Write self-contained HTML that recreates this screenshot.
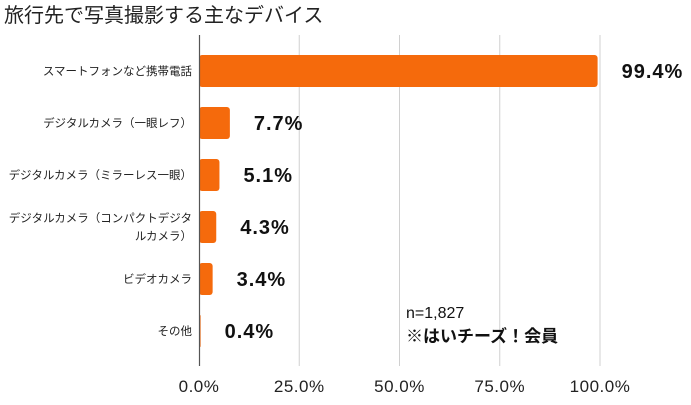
<!DOCTYPE html>
<html><head><meta charset="utf-8"><style>
body{margin:0;background:#fff;font-family:"Liberation Sans","Noto Sans CJK JP",sans-serif}
svg text{font-family:"Liberation Sans","Noto Sans CJK JP",sans-serif}
</style></head><body>
<svg width="691" height="400">
<text x="4" y="22" font-size="20" fill="#222">旅行先で写真撮影する主なデバイス</text>
<g id="grid"></g>
<g id="bars"></g>
<line x1="199.5" y1="35" x2="199.5" y2="366" stroke="#555" stroke-width="1.2"/>
<text x="406" y="318" font-size="16" font-weight="500" fill="#111">n=1,827</text>
<text x="406" y="342" font-size="17" font-weight="bold" fill="#111">※はいチーズ！会員</text>
</svg>
<script>
const categories=[["スマートフォンなど携帯電話"],["デジタルカメラ（一眼レフ）"],["デジタルカメラ（ミラーレス一眼）"],["デジタルカメラ（コンパクトデジタ","ルカメラ）"],["ビデオカメラ"],["その他"]];
const values=[99.4,7.7,5.1,4.3,3.4,0.4];
const valueLabels=["99.4%","7.7%","5.1%","4.3%","3.4%","0.4%"];
const ticks=[0,25,50,75,100];
const tickLabels=["0.0%","25.0%","50.0%","75.0%","100.0%"];
const NS="http://www.w3.org/2000/svg";
const x=v=>199+v*4.01;
const y=i=>71+i*52;
const grid=document.getElementById('grid'),bars=document.getElementById('bars');
function mk(t,a,p){const e=document.createElementNS(NS,t);for(const k in a)e.setAttribute(k,a[k]);p.appendChild(e);return e;}
ticks.forEach((t,i)=>{
 if(t>0){const l=mk('line',{x1:x(t),x2:x(t),y1:35,y2:366,stroke:'#d0d0d0','stroke-width':1},grid);
 
 }
 const tx=mk('text',{x:x(t),y:392,'font-size':17,'text-anchor':'middle',fill:'#222','letter-spacing':0.5},grid);
 tx.textContent=tickLabels[i];
 
 
});
values.forEach((v,i)=>{
 const w=Math.max(x(v)-199,1.5);
 const r=mk('rect',{x:199,y:y(i)-16,width:w,height:32,rx:Math.min(3,w/2),fill:'#f56a0c'},bars);
 
 
 const vl=mk('text',{x:x(v)+24,y:y(i)+7,'font-size':20,'font-weight':'bold',fill:'#111','letter-spacing':1},bars);
 vl.textContent=valueLabels[i];
 
 
 const lines=categories[i];
 lines.forEach((s,j)=>{
  const c=mk('text',{x:192,y:y(i)+4+(j-(lines.length-1)/2)*18,'font-size':11.5,'text-anchor':'end',fill:'#222'},bars);
  c.textContent=s;
  
  
 });
});
</script>
</body></html>
